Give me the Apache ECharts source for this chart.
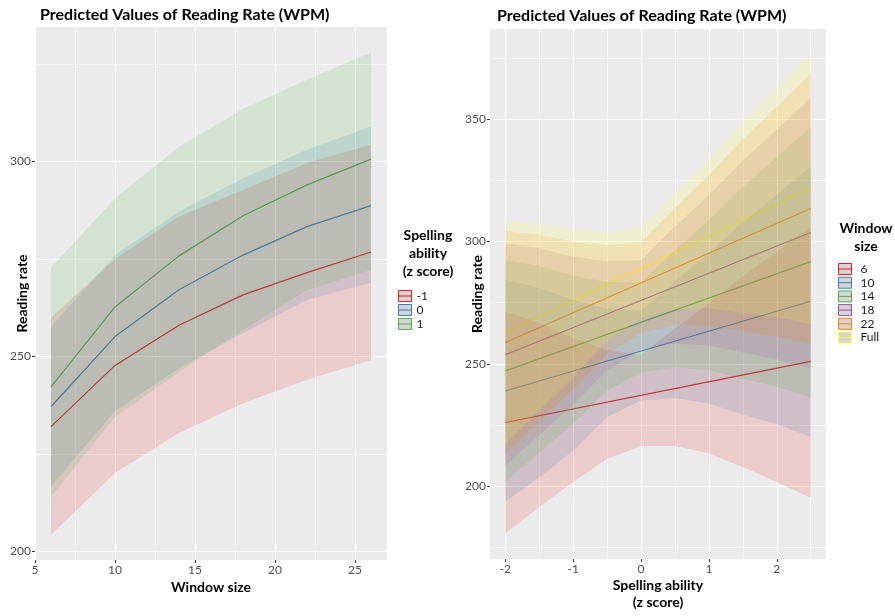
<!DOCTYPE html>
<html><head><meta charset="utf-8">
<script src="https://cdn.jsdelivr.net/npm/echarts@6/dist/echarts.min.js"></script>
<style>html,body{margin:0;padding:0;background:#fff}#c{width:895px;height:616px}</style>
</head><body><div id="c"></div>
<script>
// ---------- LEFT PANEL DATA ----------
const windowSizes = [6, 10, 14, 18, 22, 26];
const spellLevels = ['-1', '0', '1'];
const leftFit_m1  = [232.0, 247.7, 258.0, 265.8, 271.5, 276.8];
const leftLow_m1  = [204.3, 220.1, 230.4, 238.0, 244.0, 249.1];
const leftHigh_m1 = [259.9, 275.0, 285.9, 292.7, 299.6, 304.3];
const leftFit_0   = [237.1, 255.1, 267.1, 276.0, 283.3, 288.7];
const leftLow_0   = [216.6, 236.0, 247.0, 256.0, 264.5, 268.9];
const leftHigh_0  = [257.6, 276.0, 287.2, 295.7, 303.0, 309.0];
const leftFit_p1  = [242.2, 262.7, 275.8, 286.1, 294.0, 300.6];
const leftLow_p1  = [214.0, 234.5, 246.0, 256.8, 267.0, 272.2];
const leftHigh_p1 = [272.7, 290.6, 303.8, 313.5, 321.0, 328.0];
const leftXTicks = [5, 10, 15, 20, 25];
const leftXMinor = [7.5, 12.5, 17.5, 22.5];
const leftYTicks = [200, 250, 300];
const leftYMinor = [225, 275, 325];

// ---------- RIGHT PANEL DATA ----------
const spellX = [-2, -1.5, -1, -0.5, 0, 0.5, 1, 1.5, 2, 2.5];
const lineEndsX = [-2, 2.5];
const windowLevels = ['6', '10', '14', '18', '22', 'Full'];
const fit6 = [226.0, 251.0];
const fit10 = [238.9, 275.6];
const fit14 = [247.1, 291.8];
const fit18 = [253.7, 303.7];
const fit22 = [258.7, 313.5];
const fitFull = [262.9, 321.8];
const low6  = [180.6, 191.5, 201.7, 211.2, 216.4, 216.4, 213.3, 207.8, 201.7, 195.2];
const high6 = [271.5, 266.8, 260.6, 255.8, 253.6, 264.4, 274.7, 285.9, 295.9, 306.0];
const low10  = [193.6, 203.5, 214.5, 228.2, 235.0, 236.0, 233.8, 229.2, 225.4, 220.0];
const high10 = [284.4, 281.0, 276.1, 272.6, 271.7, 283.8, 295.4, 307.9, 319.2, 330.6];
const low14  = [201.7, 213.6, 225.5, 239.0, 246.5, 248.6, 247.4, 243.9, 240.6, 236.2];
const high14 = [292.6, 290.1, 286.0, 283.5, 283.5, 296.4, 308.9, 322.4, 334.5, 346.8];
const low18  = [208.3, 220.8, 233.3, 247.4, 255.4, 258.2, 257.5, 254.6, 251.9, 248.1];
const high18 = [299.2, 297.3, 293.8, 291.9, 292.4, 306.0, 319.0, 333.1, 345.8, 358.7];
const low22  = [213.3, 226.3, 239.4, 254.0, 262.6, 265.8, 265.7, 263.3, 261.2, 257.9];
const high22 = [304.2, 302.8, 299.9, 298.5, 299.6, 313.6, 327.2, 341.8, 355.1, 368.5];
const lowFull  = [217.5, 230.9, 244.5, 259.5, 268.6, 272.3, 272.7, 270.7, 269.1, 266.2];
const highFull = [308.4, 307.4, 305.0, 304.0, 305.6, 320.1, 334.2, 349.2, 363.0, 376.8];
const rightXTicks = [-2, -1, 0, 1, 2];
const rightXMinor = [-1.5, -0.5, 0.5, 1.5, 2.5];
const rightYTicks = [200, 250, 300, 350];
const rightYMinor = [175, 225, 275, 325, 375];

// ---------- STYLE ----------
const FONT = 'Lato';
const leftColors = ['#E41A1C', '#377EB8', '#4DAF4A'];
const rightColors = ['#E41A1C', '#377EB8', '#4DAF4A', '#984EA3', '#FF7F00', '#FFFF33'];
const BAND_OPACITY = 0.15;
const KEY_ICON = 'path://M0,0L13,0L13,11L0,11Z M0,5.5L13,5.5';

function rgba(hex, a) {
  const n = parseInt(hex.slice(1), 16);
  return 'rgba(' + (n >> 16 & 255) + ',' + (n >> 8 & 255) + ',' + (n & 255) + ',' + a + ')';
}

const leftGroups = [
  {fit: leftFit_m1, low: leftLow_m1, high: leftHigh_m1},
  {fit: leftFit_0, low: leftLow_0, high: leftHigh_0},
  {fit: leftFit_p1, low: leftLow_p1, high: leftHigh_p1}
];
const rightGroups = [
  {fit: fit6, low: low6, high: high6},
  {fit: fit10, low: low10, high: high10},
  {fit: fit14, low: low14, high: high14},
  {fit: fit18, low: low18, high: high18},
  {fit: fit22, low: low22, high: high22},
  {fit: fitFull, low: lowFull, high: highFull}
];

function majorAxis(gridIndex, min, max, ticks, extra) {
  return Object.assign({
    type: 'value', gridIndex, min, max,
    axisLine: {show: false, onZero: false},
    axisTick: {show: true, length: 3, lineStyle: {color: '#333', width: 1}, customValues: ticks},
    axisLabel: {customValues: ticks, color: '#4d4d4d', fontSize: 12, fontFamily: FONT, margin: 4},
    splitLine: {show: true, lineStyle: {color: '#ffffff', width: 1.1}},
    nameMoveOverlap: false,
    nameTextStyle: {fontWeight: 'bold', fontSize: 14, color: '#000', fontFamily: FONT}
  }, extra || {});
}
function minorAxis(gridIndex, min, max, ticks) {
  return {
    type: 'value', gridIndex, min, max,
    axisLine: {show: false, onZero: false},
    axisTick: {show: false, customValues: ticks},
    axisLabel: {show: false},
    splitLine: {show: true, lineStyle: {color: '#ffffff', width: 0.6}}
  };
}

const series = [];
function addPanel(groups, names, colors, xs, lineXs, axisIdx, prefix) {
  groups.forEach((g, i) => {
    series.push({
      type: 'line', name: names[i], xAxisIndex: axisIdx, yAxisIndex: axisIdx,
      data: lineXs.map((x, k) => [x, g.fit[k]]),
      showSymbol: false, symbol: 'none', z: 2,
      lineStyle: {color: colors[i], width: 1.2}, itemStyle: {color: colors[i]},
      silent: true
    });
  });
  groups.forEach((g, i) => {
    const item = [];
    xs.forEach((x, k) => { item.push(x, g.low[k], g.high[k]); });
    const fill = rgba(colors[i], BAND_OPACITY);
    series.push({
      type: 'custom', name: prefix + 'band' + i, xAxisIndex: axisIdx, yAxisIndex: axisIdx,
      z: 3, silent: true, clip: true,
      data: [item],
      renderItem: function (params, api) {
        const n = xs.length;
        const pts = [];
        for (let k = 0; k < n; k++) pts.push(api.coord([api.value(3 * k), api.value(3 * k + 1)]));
        for (let k = n - 1; k >= 0; k--) pts.push(api.coord([api.value(3 * k), api.value(3 * k + 2)]));
        return {type: 'polygon', shape: {points: pts}, style: {fill: fill, stroke: null}};
      }
    });
  });
}
addPanel(leftGroups, spellLevels, leftColors, windowSizes, windowSizes, 0, 'L');
addPanel(rightGroups, windowLevels, rightColors, spellX, lineEndsX, 2, 'R');

const titleStyle = {fontSize: 16, fontWeight: 'bold', color: '#000', fontFamily: FONT};
const option = {
  animation: false,
  backgroundColor: '#ffffff',
  title: [
    {text: 'Predicted Values of Reading Rate (WPM)', left: 40, top: 7, padding: 0, textStyle: titleStyle},
    {text: 'Predicted Values of Reading Rate (WPM)', left: 497, top: 8, padding: 0, textStyle: titleStyle}
  ],
  grid: [
    {left: 35, top: 27, width: 352, height: 533, show: true, backgroundColor: '#EBEBEB', borderWidth: 0},
    {left: 490, top: 29, width: 336, height: 533, show: true, backgroundColor: '#EBEBEB', borderWidth: 0}
  ],
  xAxis: [
    majorAxis(0, 5, 27, leftXTicks, {name: 'Window size', nameLocation: 'middle', nameGap: 20}),
    minorAxis(0, 5, 27, leftXMinor),
    majorAxis(1, -2.225, 2.725, rightXTicks, {name: 'Spelling ability\n(z score)', nameLocation: 'middle', nameGap: 18,
      nameTextStyle: {fontWeight: 'bold', fontSize: 14, color: '#000', fontFamily: FONT, lineHeight: 17}}),
    minorAxis(1, -2.225, 2.725, rightXMinor)
  ],
  yAxis: [
    majorAxis(0, 197.8, 334.5, leftYTicks, {name: 'Reading rate', nameLocation: 'middle', nameGap: 6, nameRotate: 90}),
    minorAxis(0, 197.8, 334.5, leftYMinor),
    majorAxis(1, 170.2, 386.9, rightYTicks, {name: 'Reading rate', nameLocation: 'middle', nameGap: 6, nameRotate: 90}),
    minorAxis(1, 170.2, 386.9, rightYMinor)
  ],
  legend: [
    {
      data: spellLevels.map((n, i) => ({name: n, icon: KEY_ICON,
        itemStyle: {color: '#d4d4d4', borderColor: leftColors[i], borderWidth: 1}})),
      orient: 'vertical', left: 398, top: 290, padding: 0,
      itemWidth: 13, itemHeight: 11, itemGap: 2, selectedMode: false,
      textStyle: {fontSize: 12, lineHeight: 11, color: '#1a1a1a', fontFamily: FONT}
    },
    {
      data: windowLevels.map((n, i) => ({name: n, icon: KEY_ICON,
        itemStyle: {color: '#d4d4d4', borderColor: rightColors[i], borderWidth: 1}})),
      orient: 'vertical', left: 838, top: 263, padding: 0,
      itemWidth: 13, itemHeight: 11, itemGap: 1.7, selectedMode: false,
      textStyle: {fontSize: 12, lineHeight: 11, color: '#1a1a1a', fontFamily: FONT, padding: [0, 0, 0, 4]}
    }
  ],
  graphic: [
    {type: 'text', style: {text: 'Spelling\nability\n(z score)', x: 428, y: 226, textAlign: 'center',
      font: 'bold 14px ' + FONT, lineHeight: 18, fill: '#000'}},
    {type: 'text', style: {text: 'Window\nsize', x: 866, y: 219, textAlign: 'center',
      font: 'bold 14px ' + FONT, lineHeight: 18.5, fill: '#000'}}
  ],
  series
};
const chart = echarts.init(document.getElementById('c'), null, {renderer: 'canvas'});
chart.setOption(option);
</script></body></html>
